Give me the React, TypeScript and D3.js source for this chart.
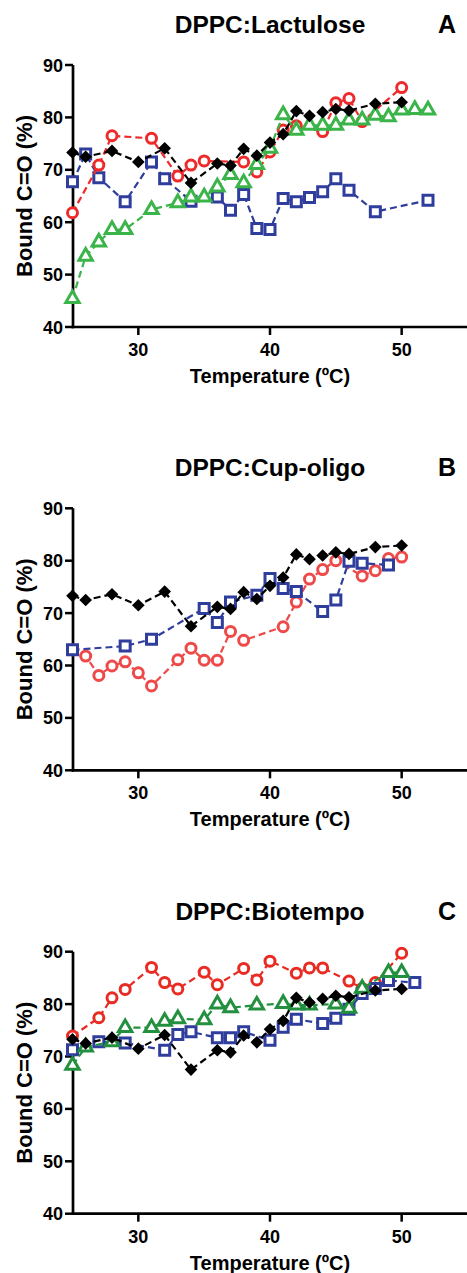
import React from 'react';
import * as d3 from 'd3';

// temperatures (ºC) and bound C=O (%)
const controlT = [25, 26, 28, 30, 32, 34, 36, 37, 38, 39, 40, 41, 42, 43, 44, 45, 46, 48, 50];
const controlV = [73.3, 72.5, 73.6, 71.5, 74.1, 67.5, 71.2, 70.8, 74.0, 72.7, 75.2, 76.8, 81.2, 80.3, 81.0, 81.6, 81.3, 82.6, 82.9];

const lactRedT = [25, 27, 28, 31, 33, 34, 35, 38, 39, 40, 41, 42, 44, 45, 46, 47, 50];
const lactRedV = [61.8, 70.9, 76.5, 76.0, 68.8, 70.9, 71.7, 71.5, 69.6, 73.4, 77.6, 78.4, 77.3, 82.8, 83.6, 79.2, 85.7];
const lactBlueT = [25, 26, 27, 29, 31, 32, 34, 36, 37, 38, 39, 40, 41, 42, 43, 44, 45, 46, 48, 52];
const lactBlueV = [67.7, 73.0, 68.5, 63.9, 71.5, 68.3, 64.0, 64.8, 62.3, 65.3, 58.8, 58.6, 64.5, 63.9, 64.7, 65.8, 68.3, 66.1, 62.0, 64.2];
const lactGreenT = [25, 26, 27, 28, 29, 31, 33, 34, 35, 36, 37, 38, 39, 40, 41, 42, 43, 44, 45, 46, 47, 48, 49, 50, 51, 52];
const lactGreenV = [45.4, 53.5, 56.2, 58.6, 58.6, 62.4, 63.7, 64.8, 64.8, 66.7, 69.1, 67.5, 71.0, 74.1, 80.5, 77.5, 78.5, 78.5, 78.5, 79.5, 79.5, 80.4, 80.1, 81.4, 81.5, 81.4];

const cupRedT = [25, 26, 27, 28, 29, 30, 31, 33, 34, 35, 36, 37, 38, 41, 42, 43, 44, 45, 47, 48, 49, 50];
const cupRedV = [63.0, 61.8, 58.1, 59.9, 60.7, 58.6, 56.1, 61.1, 63.3, 61.0, 61.0, 66.5, 64.8, 67.4, 72.1, 76.5, 78.3, 80.0, 77.1, 78.1, 80.4, 80.7];
const cupBlueT = [25, 29, 31, 35, 36, 37, 39, 40, 41, 42, 44, 45, 46, 47, 49];
const cupBlueV = [63.0, 63.7, 65.0, 70.9, 68.2, 72.1, 73.4, 76.6, 74.7, 74.1, 70.3, 72.5, 79.9, 79.5, 79.2];

const bioRedT = [25, 27, 28, 29, 31, 32, 33, 35, 36, 38, 39, 40, 42, 43, 44, 46, 47, 48, 50];
const bioRedV = [73.9, 77.4, 81.2, 82.8, 87.0, 84.1, 82.9, 86.1, 83.7, 86.8, 84.6, 88.2, 85.9, 86.9, 86.9, 84.4, 83.0, 84.1, 89.7];
const bioBlueT = [25, 27, 29, 32, 33, 34, 36, 37, 38, 40, 41, 42, 44, 45, 46, 47, 48, 49, 51];
const bioBlueV = [71.3, 72.8, 72.6, 71.2, 74.2, 74.7, 73.6, 73.6, 74.7, 73.1, 75.6, 77.1, 76.3, 77.3, 79.0, 82.0, 83.0, 84.5, 84.1];
const bioGreenT = [25, 26, 28, 29, 31, 32, 33, 35, 36, 37, 39, 41, 42, 43, 45, 46, 47, 49, 50];
const bioGreenV = [68.3, 71.8, 72.8, 75.5, 75.5, 76.7, 77.2, 77.0, 80.0, 79.3, 79.8, 80.1, 79.8, 79.8, 80.0, 79.2, 83.0, 86.0, 86.0];

const xTicks = [30, 40, 50];
const yTicks = [40, 50, 60, 70, 80, 90];

const FONT = '"Liberation Sans", Arial, sans-serif';

type Series = { t: number[]; v: number[]; color: string; shape: 'circle' | 'square' | 'triangle' | 'diamond' };

const panels: { title: string; letter: string; series: Series[] }[] = [
  {
    title: 'DPPC:Lactulose',
    letter: 'A',
    series: [
      { t: lactBlueT, v: lactBlueV, color: '#2f3d9c', shape: 'square' },
      { t: lactRedT, v: lactRedV, color: '#ef2a2a', shape: 'circle' },
      { t: lactGreenT, v: lactGreenV, color: '#3bb44a', shape: 'triangle' },
      { t: controlT, v: controlV, color: '#000000', shape: 'diamond' },
    ],
  },
  {
    title: 'DPPC:Cup-oligo',
    letter: 'B',
    series: [
      { t: cupRedT, v: cupRedV, color: '#ee4a4a', shape: 'circle' },
      { t: cupBlueT, v: cupBlueV, color: '#2f3d9c', shape: 'square' },
      { t: controlT, v: controlV, color: '#000000', shape: 'diamond' },
    ],
  },
  {
    title: 'DPPC:Biotempo',
    letter: 'C',
    series: [
      { t: bioRedT, v: bioRedV, color: '#e92c23', shape: 'circle' },
      { t: bioBlueT, v: bioBlueV, color: '#2f3d9c', shape: 'square' },
      { t: bioGreenT, v: bioGreenV, color: '#23903f', shape: 'triangle' },
      { t: controlT, v: controlV, color: '#000000', shape: 'diamond' },
    ],
  },
];

const offsets = [0, 443.3, 886.7];

const x = d3.scaleLinear().domain([25, 55]).range([72.5, 467.5]);
const y = d3.scaleLinear().domain([40, 90]).range([327, 65]);

const squarePath = d3.symbol().type(d3.symbolSquare).size(100)() as string;
const trianglePath = d3.symbol().type(d3.symbolTriangle).size(78)() as string;
const diamondPath = d3.symbol().type(d3.symbolSquare).size(80)() as string;

function Marker({ s, cx, cy }: { s: Series; cx: number; cy: number }) {
  if (s.shape === 'circle')
    return <circle cx={cx} cy={cy} r={5} fill="white" stroke={s.color} strokeWidth={3} />;
  if (s.shape === 'square')
    return <path d={squarePath} transform={`translate(${cx},${cy})`} fill="white" stroke={s.color} strokeWidth={3} />;
  if (s.shape === 'triangle')
    return <path d={trianglePath} transform={`translate(${cx},${cy})`} fill="white" stroke={s.color} strokeWidth={3} />;
  return <path d={diamondPath} transform={`translate(${cx},${cy}) rotate(45)`} fill={s.color} />;
}

function Panel({ p, offset }: { p: (typeof panels)[number]; offset: number }) {
  return (
    <g transform={`translate(0,${offset})`}>
      <text x={270} y={33} textAnchor="middle" fontSize={24.5} fontWeight="bold" fontFamily={FONT}>
        {p.title}
      </text>
      <text x={447} y={33} textAnchor="middle" fontSize={25} fontWeight="bold" fontFamily={FONT}>
        {p.letter}
      </text>

      {/* y axis */}
      <line x1={73} x2={73} y1={y(90)} y2={y(40) + 1.3} stroke="black" strokeWidth={2.7} />
      {yTicks.map((t) => (
        <g key={t}>
          <line x1={65} x2={73} y1={y(t)} y2={y(t)} stroke="black" strokeWidth={2.5} />
          <text x={63} y={y(t) + 6.5} textAnchor="end" fontSize={18} fontWeight="bold" fontFamily={FONT}>
            {t}
          </text>
        </g>
      ))}
      <text
        transform={`translate(32,${(y(40) + y(90)) / 2}) rotate(-90)`}
        textAnchor="middle"
        fontSize={22}
        fontWeight="bold"
        fontFamily={FONT}
      >
        Bound C=O (%)
      </text>

      {/* x axis */}
      <line x1={71.7} x2={467} y1={y(40)} y2={y(40)} stroke="black" strokeWidth={2.7} />
      {xTicks.map((t) => (
        <g key={t}>
          <line x1={x(t)} x2={x(t)} y1={y(40)} y2={y(40) + 8} stroke="black" strokeWidth={2.5} />
          <text x={x(t)} y={y(40) + 29} textAnchor="middle" fontSize={18} fontWeight="bold" fontFamily={FONT}>
            {t}
          </text>
        </g>
      ))}
      <text x={270} y={y(40) + 56} textAnchor="middle" fontSize={20} fontWeight="bold" fontFamily={FONT}>
        Temperature (ºC)
      </text>

      {p.series.map((s, k) => {
        const path = d3
          .line<number>()
          .x((d, i) => x(s.t[i]))
          .y((d) => y(d))(s.v) as string;
        return (
          <g key={k}>
            <path d={path} fill="none" stroke={s.color} strokeWidth={2.2} strokeDasharray="7,4" />
            {s.v.map((v, i) => (
              <Marker key={i} s={s} cx={x(s.t[i])} cy={y(v)} />
            ))}
          </g>
        );
      })}
    </g>
  );
}

export default function App() {
  return (
    <svg
      width={467}
      height={1273}
      style={{ position: 'absolute', left: 0, top: 0, background: 'white' }}
    >
      {panels.map((p, i) => (
        <Panel key={p.title} p={p} offset={offsets[i]} />
      ))}
    </svg>
  );
}
